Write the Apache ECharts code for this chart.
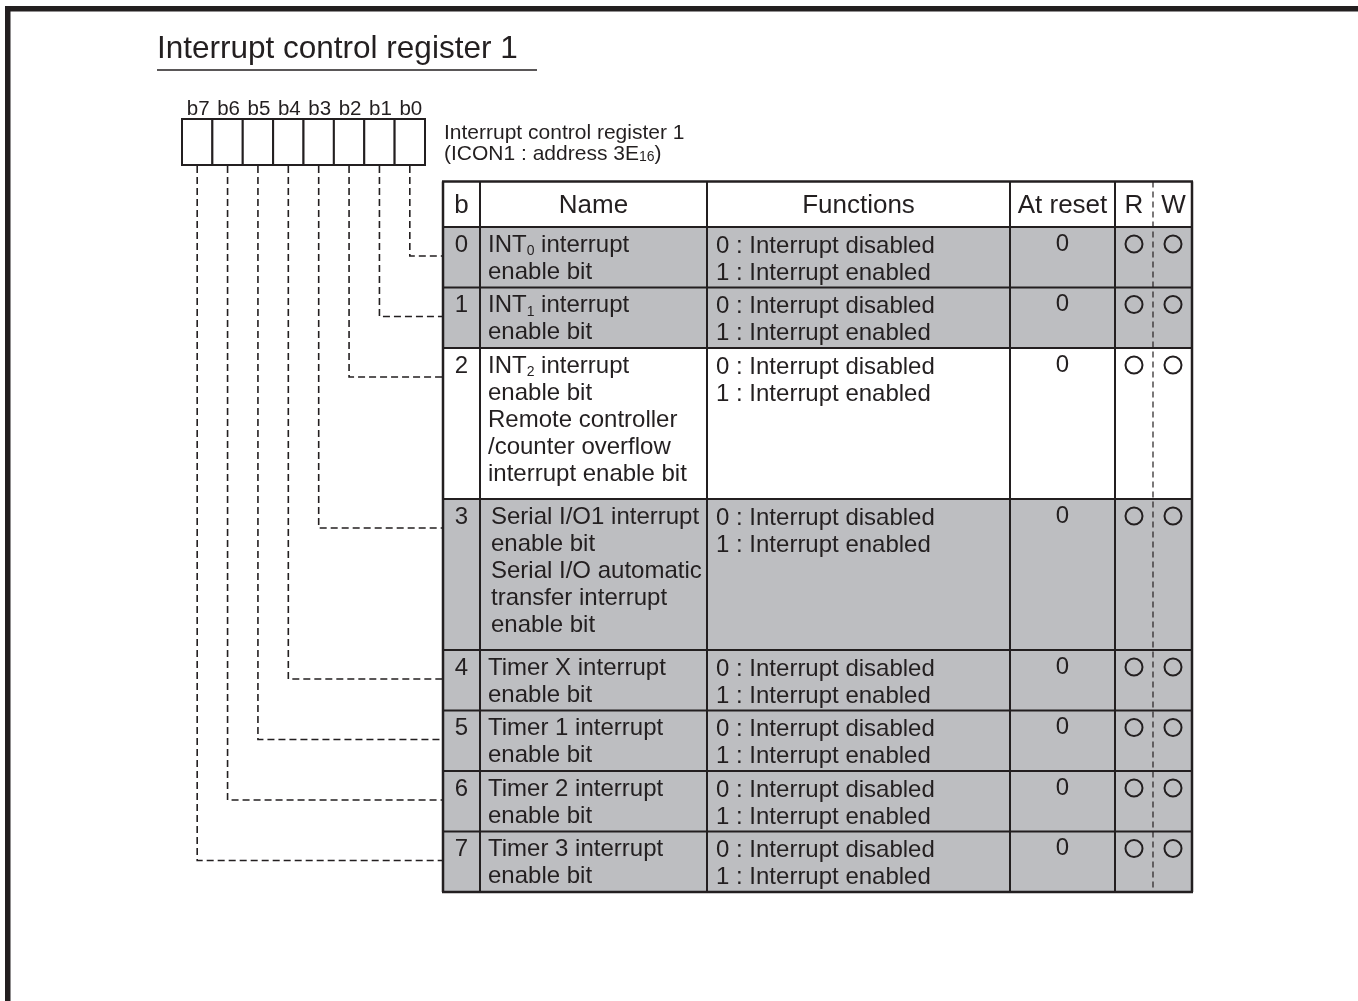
<!DOCTYPE html>
<html>
<head>
<meta charset="utf-8">
<script src="https://cdn.jsdelivr.net/npm/echarts@6/dist/echarts.min.js"></script>
<style>html,body{margin:0;padding:0;background:#fff}#c{width:1358px;height:1001px}</style>
</head>
<body>
<div id="c"></div>
<script>
// ---------------- data ----------------
const chartTitle = 'Interrupt control register 1';
const registerName = 'Interrupt control register 1';
const registerAddress = '(ICON1 : address 3E{s|16})';
const bitLabels = ['b7', 'b6', 'b5', 'b4', 'b3', 'b2', 'b1', 'b0'];
const headers = ['b', 'Name', 'Functions', 'At reset', 'R', 'W'];
const bitNumbers = [0, 1, 2, 3, 4, 5, 6, 7];
const bitNames = [
  'INT{s|0} interrupt\nenable bit',
  'INT{s|1} interrupt\nenable bit',
  'INT{s|2} interrupt\nenable bit\nRemote controller\n/counter overflow\ninterrupt enable bit',
  'Serial I/O1 interrupt\nenable bit\nSerial I/O automatic\ntransfer interrupt\nenable bit',
  'Timer X interrupt\nenable bit',
  'Timer 1 interrupt\nenable bit',
  'Timer 2 interrupt\nenable bit',
  'Timer 3 interrupt\nenable bit'
];
const bitFunctions = [
  '0 : Interrupt disabled\n1 : Interrupt enabled',
  '0 : Interrupt disabled\n1 : Interrupt enabled',
  '0 : Interrupt disabled\n1 : Interrupt enabled',
  '0 : Interrupt disabled\n1 : Interrupt enabled',
  '0 : Interrupt disabled\n1 : Interrupt enabled',
  '0 : Interrupt disabled\n1 : Interrupt enabled',
  '0 : Interrupt disabled\n1 : Interrupt enabled',
  '0 : Interrupt disabled\n1 : Interrupt enabled'
];
const resetValues = ['0', '0', '0', '0', '0', '0', '0', '0'];
const readable = [true, true, true, true, true, true, true, true];
const writable = [true, true, true, true, true, true, true, true];

// ---------------- layout & style ----------------
const FONT = '"Liberation Sans", Arial, Helvetica, sans-serif';
const INK = '#231f20';
const SHADE = '#bdbec1';
const UNSHADED_ROWS = [2];
const colEdges = [443, 480, 707, 1010, 1115, 1153, 1192];
const tableTop = 181.5, headerH = 45.5, rowH = 60.5, tallRowH = 151;
const boxLeft = 182, boxTop = 119, boxBottom = 165, cellW = 30.375;
const rowTops = [tableTop + headerH];
bitNames.forEach(function (n) {
  const lines = n.split('\n').length;
  rowTops.push(rowTops[rowTops.length - 1] + (lines > 2 ? tallRowH : rowH));
});
const tableBottom = rowTops[rowTops.length - 1];

const chart = echarts.init(document.getElementById('c'), null, { renderer: 'canvas' });

function txt(x, y, text, size, align, valign, extra) {
  const s = {
    x: x, y: y, text: text, fill: INK, fontSize: size, fontFamily: FONT,
    align: align, textAlign: align, verticalAlign: valign, textVerticalAlign: valign
  };
  if (extra) Object.assign(s, extra);
  return { type: 'text', style: s };
}
function line(x1, y1, x2, y2, w, dash) {
  return { type: 'line', shape: { x1: x1, y1: y1, x2: x2, y2: y2 },
    style: { stroke: INK, lineWidth: w, lineDash: dash || null } };
}
const subRich = { s: { fontSize: 14, lineHeight: 22, verticalAlign: 'bottom', fill: INK, color: INK, fontFamily: FONT } };

// rows
function renderRow(params, api) {
  const i = api.value(0);
  const a = api.coord([colEdges[0], rowTops[i]]);
  const b = api.coord([colEdges[6], rowTops[i + 1]]);
  const X = function (k) { return api.coord([colEdges[k], 0])[0]; };
  const top = a[1];
  const firstLine = top + 4.5; // top of first 27px text line
  const children = [];
  children.push({ type: 'rect', shape: { x: a[0], y: a[1], width: b[0] - a[0], height: b[1] - a[1] },
    style: { fill: UNSHADED_ROWS.indexOf(i) >= 0 ? '#ffffff' : SHADE } });
  children.push(txt((X(0) + X(1)) / 2, firstLine, String(bitNumbers[i]), 24, 'center', 'top', { lineHeight: 27 }));
  children.push(txt(X(1) + 8 + (i === 3 ? 3 : 0), firstLine, bitNames[i], 24, 'left', 'top', { lineHeight: 27, rich: subRich }));
  children.push(txt(X(2) + 9, firstLine + 1, bitFunctions[i], 24, 'left', 'top', { lineHeight: 27 }));
  children.push(txt((X(3) + X(4)) / 2, firstLine - 1, resetValues[i], 24, 'center', 'top', { lineHeight: 27 }));
  const cy = top + 17;
  if (readable[i]) children.push({ type: 'circle', shape: { cx: (X(4) + X(5)) / 2, cy: cy, r: 8.5 }, style: { fill: null, stroke: INK, lineWidth: 2 } });
  if (writable[i]) children.push({ type: 'circle', shape: { cx: (X(5) + X(6)) / 2 + 0.5, cy: cy, r: 8.5 }, style: { fill: null, stroke: INK, lineWidth: 2 } });
  return { type: 'group', children: children };
}

// table frame and header
function renderFrame(params, api) {
  const X = function (k) { return api.coord([colEdges[k], 0])[0]; };
  const Y = function (y) { return api.coord([0, y])[1]; };
  const t = Y(tableTop), hb = Y(tableTop + headerH), bt = Y(tableBottom);
  const children = [];
  children.push({ type: 'rect', shape: { x: X(0), y: t, width: X(6) - X(0), height: hb - t }, style: { fill: '#ffffff' } });
  const hc = (t + hb) / 2 + 2;
  for (let k = 0; k < headers.length; k++) {
    children.push(txt((X(k) + X(k + 1)) / 2 + (k === 5 ? 1 : 0), hc, headers[k], 26, 'center', 'middle'));
  }
  children.push(line(X(0) - 1, t, X(6) + 1, t, 2.5));
  for (let r = 0; r < rowTops.length; r++) {
    const yy = Y(rowTops[r]);
    children.push(line(X(0) - 1, yy, X(6) + 1, yy, r === rowTops.length - 1 ? 2.5 : 2));
  }
  for (let k = 0; k < colEdges.length; k++) {
    if (k === 5) {
      children.push(line(X(k), t, X(k), bt, 1.2, [6, 4]));
    } else {
      children.push(line(X(k), t, X(k), bt, (k === 0 || k === 6) ? 2.5 : 2));
    }
  }
  return { type: 'group', children: children };
}

// register box with bit labels
function renderRegister(params, api) {
  const k = api.value(0);
  const p0 = api.coord([boxLeft + cellW * k, boxTop]);
  const p1 = api.coord([boxLeft + cellW * (k + 1), boxBottom]);
  return { type: 'group', children: [
    { type: 'rect', shape: { x: p0[0], y: p0[1], width: p1[0] - p0[0], height: p1[1] - p0[1] },
      style: { fill: '#ffffff', stroke: INK, lineWidth: 2 } },
    txt((p0[0] + p1[0]) / 2 + 1, p0[1] - 10, bitLabels[k], 20.5, 'center', 'middle')
  ] };
}

// dashed leader lines from each register bit to its table row
function renderLeader(params, api) {
  const i = api.value(0);
  const k = bitLabels.indexOf('b' + bitNumbers[i]);
  const cx = boxLeft + cellW * (k + 0.5);
  const yRow = rowTops[i] + 29;
  const a = api.coord([cx, boxBottom + 1]);
  const b = api.coord([cx, yRow]);
  const c = api.coord([colEdges[0], yRow]);
  return { type: 'polyline', shape: { points: [a, b, c] },
    style: { fill: null, stroke: INK, lineWidth: 1.6, lineDash: [7, 4] } };
}

const option = {
  backgroundColor: '#ffffff',
  animation: false,
  title: {
    text: chartTitle, left: 157, top: 33, padding: 0,
    textStyle: { fontSize: 31.5, fontWeight: 'normal', color: INK, fontFamily: FONT, lineHeight: 32 }
  },
  grid: { left: 0, right: 0, top: 0, bottom: 0, containLabel: false },
  xAxis: { type: 'value', min: 0, max: 1358, show: false },
  yAxis: { type: 'value', min: 0, max: 1001, inverse: true, show: false },
  graphic: [
    { type: 'rect', shape: { x: 5, y: 6, width: 1353, height: 5.5 }, style: { fill: INK } },
    { type: 'rect', shape: { x: 5, y: 6, width: 5.5, height: 995 }, style: { fill: INK } },
    { type: 'line', shape: { x1: 157, y1: 70, x2: 537, y2: 70 }, style: { stroke: INK, lineWidth: 1.6 } },
    { type: 'text', x: 444, y: 122.5, style: { text: registerName + '\n' + registerAddress, fill: INK,
        fontSize: 21, fontFamily: FONT, lineHeight: 21,
        rich: { s: { fontSize: 14, lineHeight: 19, verticalAlign: 'bottom', fill: INK, fontFamily: FONT } } } }
  ],
  series: [
    { type: 'custom', name: 'rows', clip: false, silent: true, z: 2,
      data: bitNumbers.map(function (b, i) { return [i, 0]; }), renderItem: renderRow },
    { type: 'custom', name: 'frame', clip: false, silent: true, z: 3,
      data: [[0, 0]], renderItem: renderFrame },
    { type: 'custom', name: 'leaders', clip: false, silent: true, z: 3,
      data: bitNumbers.map(function (b, i) { return [i, 0]; }), renderItem: renderLeader },
    { type: 'custom', name: 'register', clip: false, silent: true, z: 4,
      data: bitLabels.map(function (b, k) { return [k, 0]; }), renderItem: renderRegister }
  ]
};
chart.setOption(option);
</script>
</body>
</html>
